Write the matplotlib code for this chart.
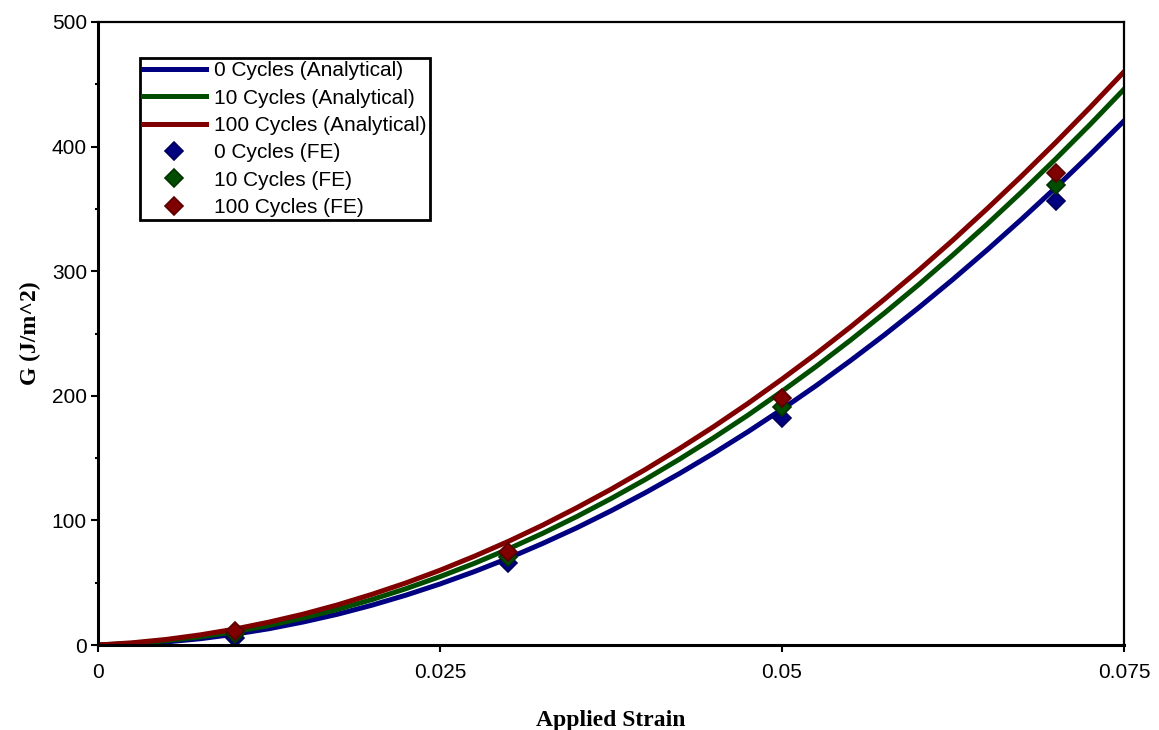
import numpy as np
import matplotlib
matplotlib.use('Agg')
import matplotlib.pyplot as plt
from matplotlib import rc
from matplotlib.ticker import MultipleLocator

rc('font', **{'family': 'Liberation Sans', 'size': 15})

# analytical curves
strain = [0.0, 0.0025, 0.005, 0.0075, 0.01, 0.0125, 0.015, 0.0175, 0.02, 0.0225,
          0.025, 0.0275, 0.03, 0.0325, 0.035, 0.0375, 0.04, 0.0425, 0.045, 0.0475,
          0.05, 0.0525, 0.055, 0.0575, 0.06, 0.0625, 0.065, 0.0675, 0.07, 0.0725, 0.075]
g_0 = [0.0, 0.8, 2.5, 5.1, 8.7, 13.1, 18.5, 24.7, 31.9, 40.0,
       49.0, 58.9, 69.7, 81.5, 94.1, 107.7, 122.2, 137.6, 153.9, 171.1,
       189.2, 208.2, 228.2, 249.0, 270.8, 293.5, 317.1, 341.6, 367.0, 393.4, 420.6]
g_10 = [0.0, 1.3, 3.5, 6.6, 10.7, 15.7, 21.7, 28.6, 36.4, 45.2,
        54.9, 65.5, 77.1, 89.6, 103.1, 117.5, 132.8, 149.1, 166.3, 184.4,
        203.6, 223.6, 244.6, 266.5, 289.3, 313.1, 337.8, 363.4, 390.0, 417.5, 446.0]
g_100 = [0.0, 1.8, 4.5, 8.2, 12.8, 18.4, 24.8, 32.2, 40.6, 49.8,
         60.0, 71.2, 83.2, 96.2, 110.2, 125.0, 140.8, 157.6, 175.2, 193.8,
         213.4, 233.8, 255.2, 277.6, 300.8, 325.0, 350.2, 376.2, 403.2, 431.2, 460.0]

# finite element points
fe_strain = [0.01, 0.03, 0.05, 0.07]
fe_0 = [6, 66, 182, 356]
fe_10 = [9, 71, 191, 369]
fe_100 = [11, 75, 198, 379]

c_blue = '#000080'
c_green = '#004d00'
c_red = '#800000'

fig = plt.figure(figsize=(11.59, 7.30), dpi=100)
ax = fig.add_axes([0.0846, 0.1164, 0.8852, 0.8535])

ax.plot(strain, g_0, color=c_blue, lw=3.6, label='0 Cycles (Analytical)')
ax.plot(strain, g_10, color=c_green, lw=3.6, label='10 Cycles (Analytical)')
ax.plot(strain, g_100, color=c_red, lw=3.6, label='100 Cycles (Analytical)')
ax.plot(fe_strain, fe_0, 'D', ms=9.5, color=c_blue, mec='#00005a', mew=1.2, label='0 Cycles (FE)')
ax.plot(fe_strain, fe_10, 'D', ms=9.5, color=c_green, mec='#003300', mew=1.2, label='10 Cycles (FE)')
ax.plot(fe_strain, fe_100, 'D', ms=9.5, color=c_red, mec='#5a0000', mew=1.2, label='100 Cycles (FE)')

ax.set_xlim(0, 0.075)
ax.set_ylim(0, 500)
ax.set_xticks([0, 0.025, 0.05, 0.075])
ax.set_xticklabels(['0', '0.025', '0.05', '0.075'])
ax.set_yticks([0, 100, 200, 300, 400, 500])
ax.yaxis.set_minor_locator(MultipleLocator(50))
ax.tick_params(axis='both', which='major', direction='out', length=5, width=1.5, labelsize=15)
ax.tick_params(axis='y', which='minor', direction='out', length=2, width=1.5)
ax.tick_params(axis='y', pad=3)
ax.tick_params(axis='x', pad=8)

for s in ['left', 'bottom']:
    ax.spines[s].set_linewidth(2.2)
for s in ['top', 'right']:
    ax.spines[s].set_linewidth(1.6)

ax.set_xlabel('Applied Strain', family='Liberation Serif', fontweight='bold', fontsize=17, labelpad=20)
ax.set_ylabel('G (J/m^2)', family='Liberation Serif', fontweight='bold', fontsize=17, labelpad=8)

leg = ax.legend(loc='upper left', bbox_to_anchor=(0.041, 0.942), borderaxespad=0,
                fontsize=15, handlelength=3.0, handletextpad=0.4, labelspacing=0.4,
                borderpad=0.15, fancybox=False, framealpha=1, edgecolor='black')
leg.get_frame().set_linewidth(2)

fig.savefig('out.png', dpi=100)
print('out.png')
